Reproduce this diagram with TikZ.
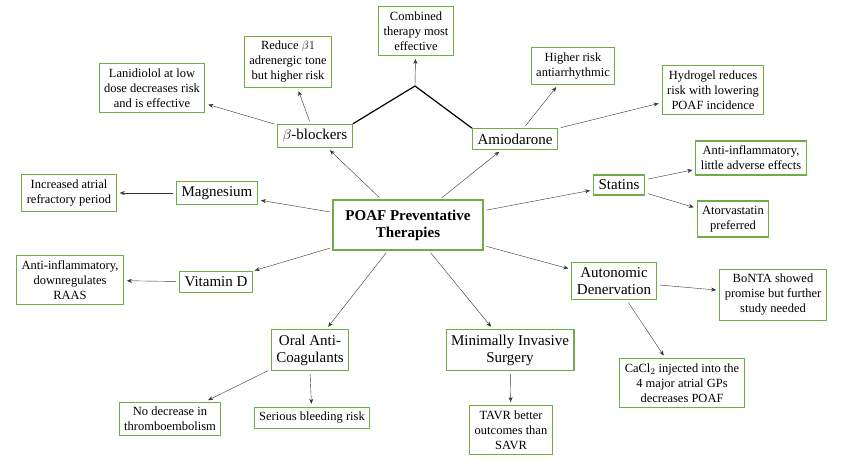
\documentclass[tikz,border=0pt]{standalone}
\usepackage{fontspec}
\setmainfont{Liberation Serif}
\usetikzlibrary{arrows.meta}
\definecolor{boxgreen}{RGB}{112,173,71}
\begin{document}
\begin{tikzpicture}
        [x=1pt, y=-1pt,
         box_style/.style={draw=boxgreen, line width=1.1pt, fill=white, align=center, inner sep=5pt},
         big_style/.style={box_style, font=\fontsize{15}{17}\selectfont},
         small_style/.style={box_style, font=\fontsize{12.5}{15}\selectfont},
         edge_style/.style={draw=black!80, -{Stealth[length=5pt,width=4pt]}, shorten >=3pt, shorten <=3pt}]
            \useasboundingbox (0,0) rectangle (844,465);
            \node[box_style, font=\fontsize{15}{17}\selectfont\bfseries, minimum width=150pt, minimum height=50pt] (center) at (408,225) {POAF Preventative\\Therapies};
            \node[big_style] (beta) at (315,136) {$\beta$-blockers};
            \node[big_style] (amio) at (515,139) {Amiodarone};
            \node[big_style] (mag) at (217,193) {Magnesium};
            \node[big_style] (vitd) at (216,282) {Vitamin D};
            \node[big_style] (stat) at (619,185) {Statins};
            \node[big_style] (auto) at (614,281) {Autonomic\\Denervation};
            \node[big_style] (oral) at (310,350) {Oral Anti-\\Coagulants};
            \node[big_style] (mini) at (510,350) {Minimally Invasive\\Surgery};
            \node[small_style] (comb) at (416,31) {Combined\\therapy most\\effective};
            \node[small_style] (reduce) at (288,62) {Reduce $\beta 1$\\adrenergic tone\\but higher risk};
            \node[small_style] (lani) at (152,88) {Lanidiolol at low\\dose decreases risk\\and is effective};
            \node[small_style] (high) at (573,66) {Higher risk\\antiarrhythmic};
            \node[small_style] (hydro) at (713,90) {Hydrogel reduces\\risk with lowering\\POAF incidence};
            \node[small_style] (incr) at (69,193) {Increased atrial\\refractory period};
            \node[small_style] (antir) at (70,280) {Anti-inflammatory,\\downregulates\\RAAS};
            \node[small_style] (antil) at (751,158) {Anti-inflammatory,\\little adverse effects};
            \node[small_style] (ator) at (733,219) {Atorvastatin\\preferred};
            \node[small_style] (bonta) at (773,295) {BoNTA showed\\promise but further\\study needed};
            \node[small_style] (cacl) at (682,383) {CaCl$_2$ injected into the\\4 major atrial GPs\\decreases POAF};
            \node[small_style] (nodec) at (170,419) {No decrease in\\thromboembolism};
            \node[small_style] (bleed) at (312,418) {Serious bleeding risk};
            \node[small_style] (tavr) at (511,430) {TAVR better\\outcomes than\\SAVR};
            \coordinate (apex) at (415,86);
            % center to categories
            \foreach \t in {beta,amio,mag,vitd,stat,auto,oral,mini}
                \draw[edge_style] (center) -- (\t);
            % categories to leaves
            \draw[edge_style] (beta) -- (reduce);
            \draw[edge_style] (beta) -- (lani);
            \draw[edge_style] (amio) -- (high);
            \draw[edge_style] (amio) -- (hydro);
            \draw[edge_style] (mag) -- (incr);
            \draw[edge_style] (vitd) -- (antir);
            \draw[edge_style] (stat) -- (antil);
            \draw[edge_style] (stat) -- (ator);
            \draw[edge_style] (auto) -- (bonta);
            \draw[edge_style] (auto) -- (cacl);
            \draw[edge_style] (oral) -- (nodec);
            \draw[edge_style] (oral.south) -- (bleed);
            \draw[edge_style] (mini) -- (tavr);
            % combined therapy
            \draw[line width=1.2pt] (beta.north east) -- (apex) -- (amio.north west);
            \draw[edge_style, shorten <=0pt] (apex) -- (comb);
        \end{tikzpicture}
\end{document}
